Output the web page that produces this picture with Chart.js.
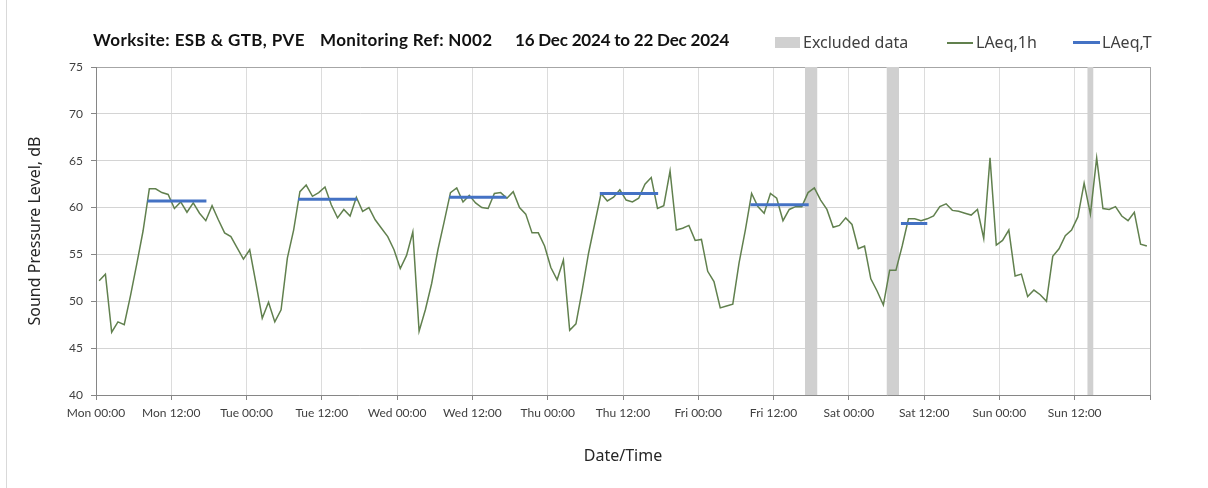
<!DOCTYPE html>
<html>
<head>
<meta charset="utf-8">
<script src="https://cdn.jsdelivr.net/npm/chart.js@4.4.1/dist/chart.umd.min.js"></script>
<style>
  body { margin: 0; background: #fff; }
  #wrap { position: relative; width: 1208px; height: 488px; overflow: hidden; }
  #frame { position: absolute; left: 6px; top: 0; width: 1px; height: 488px; background: #d9d9d9; }
  .hdr { position: absolute; top: 29px; line-height: 22px; font: bold 17px Lato, sans-serif; color: #111; white-space: nowrap; }
  .leg { position: absolute; top: 31px; line-height: 22px; font: 16px 'Noto Sans', sans-serif; color: #404040; white-space: nowrap; }
  .sw { position: absolute; }
</style>
</head>
<body>
<div id="wrap">
  <div id="frame"></div>
  <canvas id="noiseChart" width="1208" height="488"></canvas>
  <span class="hdr" style="left:93px; letter-spacing:0.4px">Worksite: ESB &amp; GTB, PVE</span>
  <span class="hdr" style="left:320px; letter-spacing:0.35px">Monitoring Ref: N002</span>
  <span class="hdr" style="left:515px; letter-spacing:-0.2px">16 Dec 2024 to 22 Dec 2024</span>

  <div class="sw" style="left:775px; top:37px; width:25px; height:11px; background:#d0d0d0"></div>
  <span class="leg" style="left:803px">Excluded data</span>
  <div class="sw" style="left:947px; top:42px; width:26px; height:1.5px; background:#61804e"></div>
  <span class="leg" style="left:976px">LAeq,1h</span>
  <div class="sw" style="left:1073px; top:41px; width:27px; height:3px; background:#4472c4"></div>
  <span class="leg" style="left:1102px">LAeq,T</span>
</div>

<script>
// hourly LAeq,1h values, Mon 00:00 .. Sun 23:00 (one per hour)
const laeq1h = [
  52.2, 52.9, 46.7, 47.8, 47.5, 50.6, 54.0, 57.5, 62.0, 62.0, 61.6, 61.4, 59.9, 60.6, 59.5, 60.5, 59.4, 58.6, 60.2, 58.7, 57.3, 56.9, 55.7, 54.5,
  55.5, 51.9, 48.2, 49.9, 47.8, 49.1, 54.6, 57.6, 61.7, 62.4, 61.2, 61.6, 62.2, 60.3, 58.9, 59.8, 59.1, 61.1, 59.6, 60.0, 58.7, 57.8, 56.9, 55.5,
  53.5, 54.9, 57.4, 46.8, 49.1, 51.9, 55.5, 58.5, 61.6, 62.1, 60.6, 61.3, 60.5, 60.0, 59.9, 61.5, 61.6, 61.0, 61.7, 60.0, 59.3, 57.3, 57.3, 55.9,
  53.6, 52.3, 54.4, 46.9, 47.6, 51.2, 55.1, 58.3, 61.5, 60.7, 61.1, 61.9, 60.8, 60.6, 61.0, 62.5, 63.2, 59.9, 60.2, 63.9, 57.6, 57.8, 58.1, 56.5,
  56.6, 53.2, 52.1, 49.3, 49.5, 49.7, 54.1, 57.6, 61.5, 60.1, 59.4, 61.5, 61.0, 58.6, 59.8, 60.1, 60.1, 61.6, 62.1, 60.8, 59.8, 57.9, 58.1, 58.9,
  58.2, 55.6, 55.9, 52.4, 51.1, 49.6, 53.3, 53.3, 55.9, 58.8, 58.8, 58.6, 58.8, 59.1, 60.1, 60.4, 59.7, 59.6, 59.4, 59.2, 59.8, 56.7, 65.3, 56.0,
  56.5, 57.6, 52.7, 52.9, 50.5, 51.2, 50.7, 50.0, 54.8, 55.6, 57.0, 57.6, 59.0, 62.6, 59.3, 65.3, 59.9, 59.8, 60.1, 59.1, 58.6, 59.5, 56.1, 55.9
];

// LAeq,T daytime periods (hours from Mon 00:00)
const periodStart = [8.2, 32.2, 56.3, 80.3, 104.3, 128.3];
const periodEnd   = [17.6, 41.6, 65.4, 89.6, 113.6, 132.5];
const periodLevel = [60.7, 60.9, 61.1, 61.5, 60.3, 58.3];

// excluded data windows (hours from Mon 00:00)
const excludedStart = [113, 126, 158];
const excludedEnd   = [115, 128, 159];

const tickLabels = [
  'Mon 00:00', 'Mon 12:00', 'Tue 00:00', 'Tue 12:00', 'Wed 00:00', 'Wed 12:00', 'Thu 00:00',
  'Thu 12:00', 'Fri 00:00', 'Fri 12:00', 'Sat 00:00', 'Sat 12:00', 'Sun 00:00', 'Sun 12:00'
];

const datasets = [];

excludedStart.forEach((s, k) => {
  datasets.push({
    label: 'Excluded data',
    data: [{ x: s, y: 75 }, { x: excludedEnd[k], y: 75 }],
    borderWidth: 0,
    borderColor: 'rgba(0,0,0,0)',
    backgroundColor: '#d0d0d0',
    fill: 'start',
    pointRadius: 0,
    order: 3
  });
});

datasets.push({
  label: 'LAeq,1h',
  data: laeq1h.map((v, i) => ({ x: i + 0.5, y: v })),
  borderColor: '#61804e',
  borderWidth: 1.5,
  fill: false,
  tension: 0,
  pointRadius: 0,
  order: 2
});

periodStart.forEach((s, k) => {
  datasets.push({
    label: 'LAeq,T',
    data: [{ x: s, y: periodLevel[k] }, { x: periodEnd[k], y: periodLevel[k] }],
    borderColor: '#4472c4',
    borderWidth: 3,
    fill: false,
    pointRadius: 0,
    order: 1
  });
});

const ctx = document.getElementById('noiseChart').getContext('2d');
new Chart(ctx, {
  type: 'line',
  data: { datasets: datasets },
  options: {
    responsive: false,
    animation: false,
    devicePixelRatio: 1,
    layout: { padding: { left: 0, right: 58, top: 67, bottom: 0 } },
    plugins: {
      legend: { display: false },
      tooltip: { enabled: false }
    },
    scales: {
      x: {
        type: 'linear',
        min: 0,
        max: 168,
        afterFit: scale => { scale.height = 93; },
        ticks: {
          stepSize: 12,
          autoSkip: false,
          maxRotation: 0,
          padding: 6,
          color: '#404040',
          font: { family: 'Lato', size: 12 },
          callback: value => tickLabels[value / 12] || ''
        },
        grid: {
          color: c => (c.tick && c.tick.value === 168 ? '#a6a6a6' : '#dcdcdc'),
          tickColor: '#868686',
          tickLength: 5
        },
        border: { color: '#868686' },
        title: {
          display: true,
          text: 'Date/Time',
          color: '#262626',
          font: { family: 'Noto Sans', size: 16 },
          padding: { top: 0, bottom: 22 }
        }
      },
      y: {
        min: 40,
        max: 75,
        afterFit: scale => { scale.width = 96; },
        ticks: {
          stepSize: 5,
          padding: 8,
          color: '#404040',
          font: { family: 'Lato', size: 12 }
        },
        grid: {
          color: c => (c.tick && c.tick.value === 75 ? '#a6a6a6' : '#d4d4d4'),
          tickColor: '#868686',
          tickLength: 5
        },
        border: { color: '#868686' },
        title: {
          display: true,
          text: 'Sound Pressure Level, dB',
          color: '#262626',
          font: { family: 'Noto Sans', size: 16 },
          padding: { top: 26, bottom: 0 }
        }
      }
    }
  }
});
</script>
</body>
</html>
